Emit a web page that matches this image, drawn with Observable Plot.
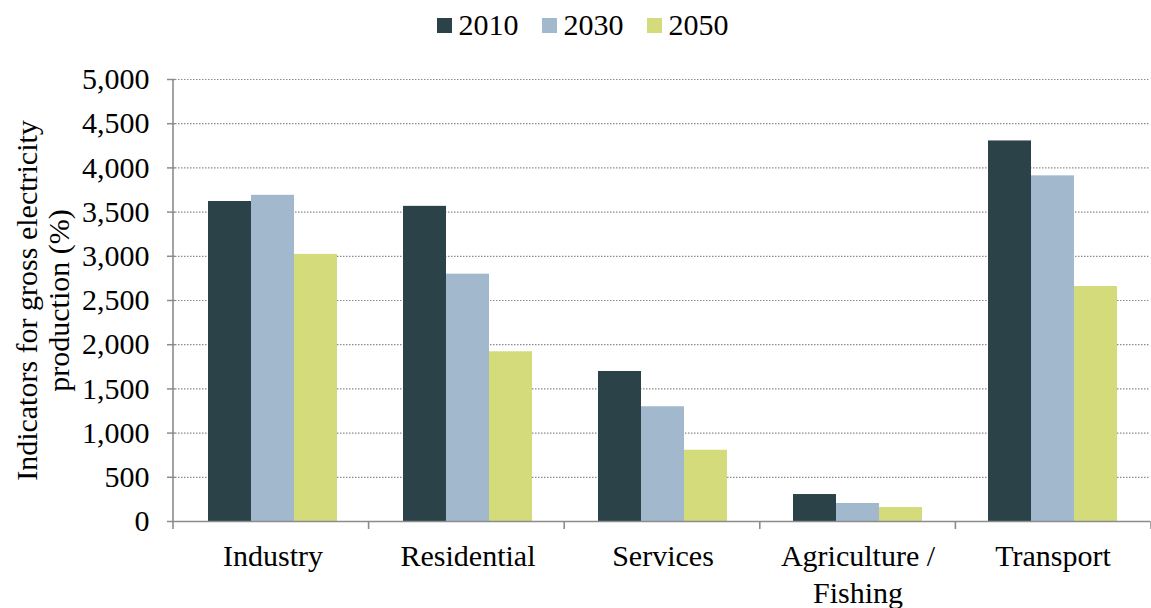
<!DOCTYPE html>
<html>
<head>
<meta charset="utf-8">
<script src="https://cdn.jsdelivr.net/npm/d3@7"></script>
<script src="https://cdn.jsdelivr.net/npm/@observablehq/plot@0.6"></script>
<style>
  html, body { margin: 0; padding: 0; background: #fff; overflow: hidden; }
  body { font-family: 'Liberation Serif'; color: #000; width: 1151px; }
  #legend { height: 50px; display: flex; justify-content: center; align-items: center; font-size: 30px; padding-left: 14px; box-sizing: border-box; font-family: 'Liberation Serif'; }
  #legend .item { display: flex; align-items: center; margin: 0 11.5px; }
  #legend .sw { width: 15px; height: 15px; margin-right: 7px; }
  svg text { font-family: 'Liberation Serif'; }
</style>
</head>
<body>
<div id="legend"></div>
<div id="chart"></div>
<script>
const categories = ["Industry", "Residential", "Services", "Agriculture / Fishing", "Transport"];
const years = ["2010", "2030", "2050"];
const values2010 = [3620, 3565, 1697, 305, 4305];
const values2030 = [3690, 2798, 1298, 204, 3910];
const values2050 = [3022, 1920, 806, 158, 2658];
const yTicks = [0, 500, 1000, 1500, 2000, 2500, 3000, 3500, 4000, 4500, 5000];
const yLabel = "Indicators for gross electricity\nproduction (%)";
const colors = ["#2b4249", "#a2b8cd", "#d4db7b"];

const series = [values2010, values2030, values2050];
const data = categories.flatMap((c, i) => years.map((yr, j) => ({category: c, year: yr, value: series[j][i]})));

const gray = "#8c8c8c";
const FONT = 30;
const FAMILY = "Liberation Serif";

const chart = Plot.plot({
  width: 1151,
  height: 558,
  marginTop: 29,
  marginBottom: 87,
  marginLeft: 173,
  marginRight: 0,
  style: {fontFamily: FAMILY, fontSize: FONT + "px", color: "#000", background: "#fff", overflow: "visible"},
  fx: {domain: categories, padding: 0, label: null, axis: null},
  x: {domain: years, paddingInner: 0, paddingOuter: 0.747, axis: null},
  y: {domain: [0, 5000], label: null, axis: null},
  color: {domain: years, range: colors},
  marks: [
    Plot.gridY(yTicks.filter(d => d > 0), {stroke: gray, strokeOpacity: 1, strokeWidth: 1.2, strokeDasharray: "1.5,1.5"}),
    Plot.barY(data, {fx: "category", x: "year", y: "value", fill: "year"}),
    Plot.ruleY([0], {stroke: gray, strokeWidth: 1.6}),
    Plot.axisY(yTicks, {anchor: "left", tickSize: 8, tickPadding: 18, stroke: gray, strokeWidth: 1.5, tickFormat: d3.format(","), fontSize: FONT, fontFamily: FAMILY, label: null}),
    Plot.axisFx({anchor: "bottom", tickSize: 0, tickPadding: 18, fontSize: FONT, fontFamily: FAMILY, lineHeight: 1.23, tickFormat: d => d.replace(" / ", " /\n"), label: null}),
    Plot.text([categories[0]], {fx: d => d, text: () => yLabel, frameAnchor: "left", rotate: -90, dx: -161, lineAnchor: "top", textAnchor: "middle", fontSize: FONT, fontFamily: FAMILY, lineHeight: 1.07, fill: "#000"})
  ]
});

document.getElementById("chart").appendChild(chart);

// y-axis line and category boundary ticks, positioned from the plot's scales
const fx = chart.scale("fx");
const y = chart.scale("y");
const svg = d3.select(chart);
const x0 = fx.range[0];
const step = (fx.range[1] - fx.range[0]) / fx.domain.length;
const yBase = y.apply(0);
const yTop = y.apply(5000);
const g = svg.append("g").attr("stroke", gray).attr("stroke-width", 1.6);
g.append("line").attr("x1", x0).attr("x2", x0).attr("y1", yTop).attr("y2", yBase);
d3.range(fx.domain.length + 1).forEach(i => {
  const xx = x0 + i * step;
  g.append("line").attr("x1", xx).attr("x2", xx).attr("y1", yBase).attr("y2", yBase + 8);
});

// legend built from the color scale
const color = chart.scale("color");
const legend = d3.select("#legend");
years.forEach(yr => {
  const it = legend.append("div").attr("class", "item");
  it.append("div").attr("class", "sw").style("background", color.apply(yr));
  it.append("span").text(yr);
});
</script>
</body>
</html>
